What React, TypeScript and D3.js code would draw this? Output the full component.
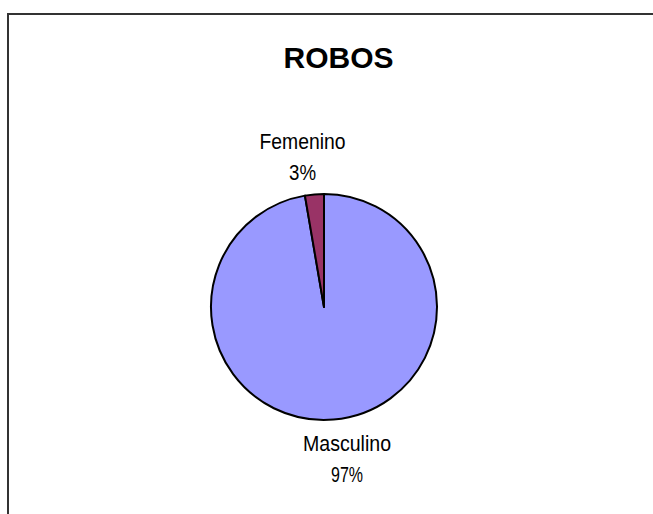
import React from "react";
import * as d3 from "d3";

const categories = ["Masculino", "Femenino"];
const values = [97.3, 2.7];
const percentLabels = ["97%", "3%"];
const colors = ["#9999FF", "#993366"];
const title = "ROBOS";

const W = 653;
const H = 514;
const cx = 324;
const cy = 307;
const R = 113;

// label layout: [center x, first baseline y, textLength name, textLength pct]
const labelLayout = [
  { x: 347, y: 451, nameLen: 88, pctLen: 32 },
  { x: 302.5, y: 149, nameLen: 86, pctLen: 27 },
];

export default function App() {
  const data = categories.map((c, i) => ({ c, v: values[i], i }));
  const pie = d3.pie<any>().value((d) => d.v).sort(null).startAngle(0).endAngle(2 * Math.PI);
  const arcs = pie(data);
  const arc = d3.arc<any>().innerRadius(0).outerRadius(R);

  return (
    <div style={{ position: "fixed", left: 0, top: 0, width: W, height: H, overflow: "hidden", background: "#fff" }}>
      <svg width={W} height={H} style={{ display: "block" }}>
        <line x1={8} y1={14} x2={W} y2={14} stroke="#333" strokeWidth={2} />
        <line x1={8} y1={13} x2={8} y2={H} stroke="#333" strokeWidth={2} />
        <text
          x={338.5}
          y={68}
          textAnchor="middle"
          fontFamily="'Liberation Sans', Arial, sans-serif"
          fontWeight="bold"
          fontSize={30}
          fill="#000"
        >
          {title}
        </text>
        <g transform={`translate(${cx},${cy})`}>
          {arcs.map((a, i) => (
            <path
              key={i}
              d={arc(a) as string}
              fill={colors[i]}
              stroke="#000"
              strokeWidth={2}
              strokeLinejoin="round"
            />
          ))}
        </g>
        {categories.map((c, i) => {
          const L = labelLayout[i];
          return (
            <g key={c} fontFamily="'Liberation Sans Narrow', 'Arial Narrow', 'Liberation Sans', Arial, sans-serif" fontSize={22} fill="#000">
              <text x={L.x} y={L.y} textAnchor="middle" textLength={L.nameLen} lengthAdjust="spacingAndGlyphs">
                {c}
              </text>
              <text x={L.x} y={L.y + 31} textAnchor="middle" textLength={L.pctLen} lengthAdjust="spacingAndGlyphs">
                {percentLabels[i]}
              </text>
            </g>
          );
        })}
      </svg>
    </div>
  );
}
